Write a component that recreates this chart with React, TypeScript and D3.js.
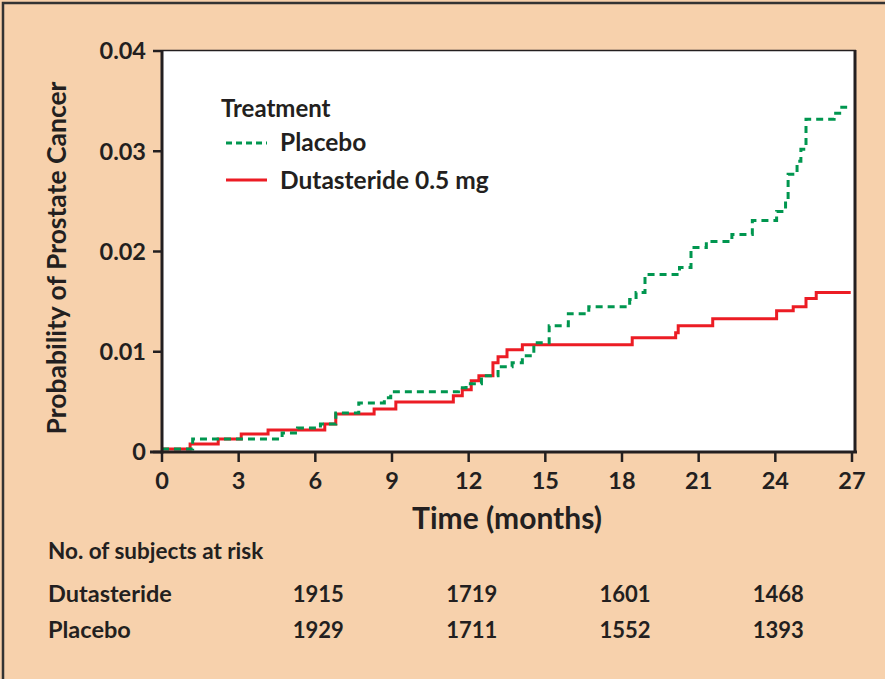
import React from "react";
import * as d3 from "d3";

const xTicks = [0, 3, 6, 9, 12, 15, 18, 21, 24, 27];
const yTicks = [0, 0.01, 0.02, 0.03, 0.04];
const yTickLabels = ["0", "0.01", "0.02", "0.03", "0.04"];

// [month, cumulative probability]
const dutasteride: [number, number][] = [
  [0, 0.0003], [1.1, 0.0008], [2.2, 0.0013], [3.1, 0.0018], [4.15, 0.0022],
  [6.37, 0.0028], [6.8, 0.0038], [8.3, 0.0043], [9.15, 0.005], [11.4, 0.0056],
  [11.75, 0.0062], [12.1, 0.0071], [12.4, 0.0076], [12.95, 0.0089], [13.15, 0.0095],
  [13.5, 0.0102], [14.1, 0.0107], [18.4, 0.0114], [20.1, 0.0119], [20.2, 0.0126],
  [21.55, 0.0133], [24.05, 0.0141], [24.7, 0.0145], [25.2, 0.0153], [25.6, 0.0159],
  [26.95, 0.0159],
];

const placebo: [number, number][] = [
  [0, 0.0003], [1.2, 0.0013], [4.7, 0.0019], [5.3, 0.0024], [6.2, 0.0028],
  [6.8, 0.0039], [7.7, 0.0049], [8.7, 0.0054], [8.95, 0.006], [11.6, 0.0064],
  [11.9, 0.0068], [12.5, 0.0076], [13.15, 0.0085], [13.7, 0.0089], [14.1, 0.0096],
  [14.55, 0.0109], [15.15, 0.0126], [15.9, 0.0138], [16.7, 0.0145], [18.3, 0.0152],
  [18.55, 0.0159], [18.9, 0.0177], [20.25, 0.0184], [20.7, 0.0204], [21.3, 0.021],
  [22.3, 0.0217], [23.1, 0.0231], [24.05, 0.024], [24.4, 0.025], [24.5, 0.0277],
  [24.85, 0.029], [25.0, 0.0302], [25.2, 0.0332], [26.3, 0.0338], [26.6, 0.0344],
  [27, 0.0344],
];

const riskMonths = [6, 12, 18, 24];
const riskDutasteride = [1915, 1719, 1601, 1468];
const riskPlacebo = [1929, 1711, 1552, 1393];

const BG = "#F7D1AC";
const RED = "#EC1C24";
const GREEN = "#00964F";
const INK = "#231F20";
const FONT = "Lato, 'Open Sans', sans-serif";

export default function App() {
  const W = 885, H = 679;
  const x = d3.scaleLinear().domain([0, 27]).range([162, 852]);
  const y = d3.scaleLinear().domain([0, 0.04]).range([452, 51]);
  const line = d3
    .line<[number, number]>()
    .x((d) => x(d[0]))
    .y((d) => y(d[1]))
    .curve(d3.curveStepAfter);

  return (
    <svg
      width={W}
      height={H}
      style={{ position: "absolute", left: 0, top: 0, fontFamily: FONT }}
    >
      <rect x={0} y={0} width={W} height={H} fill={BG} />
      <rect x={3} y={3} width={W + 10} height={H + 10} fill="none" stroke="#333" strokeWidth={2.5} />
      {/* plot area */}
      <rect x={162} y={50} width={693} height={402} fill="#fff" />
      <line x1={162} x2={856} y1={50.5} y2={50.5} stroke={INK} strokeWidth={1.5} />
      <line x1={855} x2={855} y1={50} y2={452} stroke={INK} strokeWidth={3} />

      {/* curves */}
      <path d={line(dutasteride) || ""} fill="none" stroke={RED} strokeWidth={3} />
      <path
        d={line(placebo) || ""}
        fill="none"
        stroke={GREEN}
        strokeWidth={3}
        strokeDasharray="7 5"
      />

      {/* axes */}
      <line x1={162} x2={162} y1={50} y2={453.5} stroke={INK} strokeWidth={3} />
      <line x1={150} x2={857} y1={452} y2={452} stroke={INK} strokeWidth={3} />
      {yTicks.map((t, i) => (
        <g key={"y" + i}>
          <line x1={153} x2={162} y1={y(t)} y2={y(t)} stroke={INK} strokeWidth={2.5} />
          <text
            x={146}
            y={y(t)}
            dy="0.36em"
            textAnchor="end"
            fontSize={23.5}
            fontWeight={700}
            fill={INK}
          >
            {yTickLabels[i]}
          </text>
        </g>
      ))}
      {xTicks.map((t, i) => (
        <g key={"x" + i}>
          <line x1={x(t)} x2={x(t)} y1={452} y2={462} stroke={INK} strokeWidth={2.5} />
          <text
            x={x(t)}
            y={489}
            textAnchor="middle"
            fontSize={23.5}
            fontWeight={700}
            fill={INK}
          >
            {t}
          </text>
        </g>
      ))}
      <text x={507} y={529} textAnchor="middle" fontSize={30} fontWeight={700} fill={INK}>
        Time (months)
      </text>
      <text
        transform="translate(66,258) rotate(-90)"
        textAnchor="middle"
        fontSize={26.5}
        fontWeight={700}
        fill={INK}
      >
        Probability of Prostate Cancer
      </text>

      {/* legend */}
      <text x={221} y={117} fontSize={24} fontWeight={700} fill={INK}>
        Treatment
      </text>
      <line x1={226} x2={267} y1={143} y2={143} stroke={GREEN} strokeWidth={3} strokeDasharray="6 4" />
      <text x={280} y={151} fontSize={24.5} fontWeight={700} fill={INK}>
        Placebo
      </text>
      <line x1={226} x2={267} y1={180} y2={180} stroke={RED} strokeWidth={3} />
      <text x={280} y={189} fontSize={24.5} fontWeight={700} fill={INK}>
        Dutasteride 0.5 mg
      </text>

      {/* risk table */}
      <text x={48} y={559} fontSize={22.5} fontWeight={700} fill={INK}>
        No. of subjects at risk
      </text>
      <text x={48} y={602} fontSize={23.5} fontWeight={700} fill={INK}>
        Dutasteride
      </text>
      <text x={48} y={638} fontSize={23.5} fontWeight={700} fill={INK}>
        Placebo
      </text>
      {riskMonths.map((m, i) => (
        <g key={"r" + i}>
          <text x={x(m) + 3} y={602} textAnchor="middle" fontSize={22} fontWeight={700} fill={INK}>
            {riskDutasteride[i]}
          </text>
          <text x={x(m) + 3} y={638} textAnchor="middle" fontSize={22} fontWeight={700} fill={INK}>
            {riskPlacebo[i]}
          </text>
        </g>
      ))}
    </svg>
  );
}
